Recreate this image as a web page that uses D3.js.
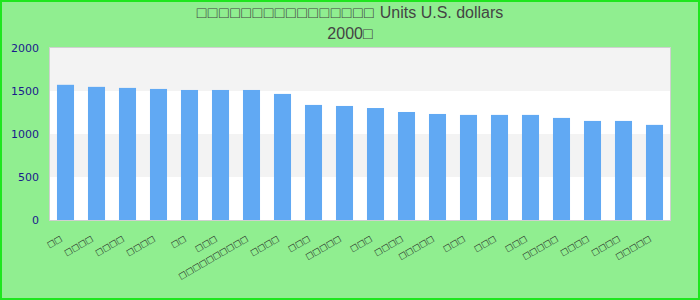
<!DOCTYPE html>
<html>
<head>
<meta charset="utf-8">
<script src="https://cdn.jsdelivr.net/npm/d3@7"></script>
<style>
  body { margin: 0; }
  svg { display: block; }
</style>
</head>
<body>
<div id="chart"></div>
<script>
// labels as they appear in the picture (glyphs not readable, shown as boxes)
const titleBoxes = "□□□□□□□□□□□□□□□□";
const titleUnits = " Units U.S. dollars";
const titleLine2 = "2000□";
const countries = [
  "□□", "□□□□", "□□□□", "□□□□", "□□", "□□□", "□□□□□□□□□□", "□□□□", "□□□", "□□□□□",
  "□□□", "□□□□", "□□□□□", "□□□", "□□□", "□□□", "□□□□□", "□□□□", "□□□□", "□□□□□"
];
const values = [
  1572, 1548, 1536, 1524, 1512, 1512, 1512, 1466, 1338, 1326,
  1302, 1256, 1233, 1222, 1222, 1222, 1187, 1152, 1152, 1106
];
const yTicks = [0, 500, 1000, 1500, 2000];

const width = 700, height = 300;
const margin = { top: 48, right: 30, bottom: 80, left: 50 };

const svg = d3.select("#chart").append("svg")
  .attr("width", width)
  .attr("height", height);

// page background + green frame
svg.append("rect")
  .attr("x", 1).attr("y", 1)
  .attr("width", width - 2).attr("height", height - 2)
  .attr("fill", "#90ee90")
  .attr("stroke", "#1ee61e")
  .attr("stroke-width", 2);

const x = d3.scaleBand()
  .domain(d3.range(countries.length))
  .range([margin.left, width - margin.right])
  .paddingInner(0.45)
  .paddingOuter(0.225);

const y = d3.scaleLinear()
  .domain([0, 2000])
  .range([height - margin.bottom, margin.top]);

// plot area
svg.append("rect")
  .attr("x", margin.left).attr("y", margin.top)
  .attr("width", width - margin.left - margin.right)
  .attr("height", y(0) - margin.top)
  .attr("fill", "#fff");

// alternating bands
svg.selectAll("rect.band")
  .data([[500, 1000], [1500, 2000]])
  .enter().append("rect")
  .attr("class", "band")
  .attr("x", margin.left)
  .attr("y", d => y(d[1]))
  .attr("width", width - margin.left - margin.right)
  .attr("height", d => y(d[0]) - y(d[1]))
  .attr("fill", "#f3f3f3");

// bars
svg.selectAll("rect.bar")
  .data(values)
  .enter().append("rect")
  .attr("class", "bar")
  .attr("x", (d, i) => x(i))
  .attr("y", d => y(d))
  .attr("width", x.bandwidth())
  .attr("height", d => y(0) - y(d))
  .attr("fill", "#61a9f3");

// frame around plot
svg.append("rect")
  .attr("x", margin.left - 0.5).attr("y", margin.top - 0.5)
  .attr("width", width - margin.left - margin.right + 1)
  .attr("height", y(0) - margin.top + 1)
  .attr("fill", "none")
  .attr("stroke", "#d0d0d0")
  .attr("stroke-width", 1);

// y axis
const yAxis = d3.axisLeft(y).tickValues(yTicks).tickFormat(d3.format("d")).tickSize(0).tickPadding(11);
const gy = svg.append("g")
  .attr("transform", `translate(${margin.left},0)`)
  .call(yAxis);
gy.select(".domain").remove();
gy.selectAll("text")
  .attr("fill", "#1a1a8c")
  .style("font-family", "DejaVu Sans")
  .style("font-size", "11px");

// x axis labels
const xAxis = d3.axisBottom(x).tickFormat(i => countries[i]).tickSize(0);
const gx = svg.append("g")
  .attr("transform", `translate(0,${y(0)})`)
  .call(xAxis);
gx.select(".domain").remove();
gx.selectAll("text")
  .attr("fill", "#222")
  .style("font-family", "DejaVu Sans")
  .style("font-size", "8.3px")
  .attr("text-anchor", "end")
  .attr("dy", 0)
  .attr("y", 0)
  .attr("transform", "translate(-3,20) rotate(-30)");

// title
const t1 = svg.append("text")
  .attr("x", width / 2).attr("y", 18)
  .attr("text-anchor", "middle")
  .attr("fill", "#444")
  .style("font-family", "Liberation Sans")
  .style("font-size", "16px");
t1.append("tspan").attr("letter-spacing", "1.5px").text(titleBoxes);
t1.append("tspan").text(titleUnits);
svg.append("text")
  .attr("x", width / 2).attr("y", 39)
  .attr("text-anchor", "middle")
  .attr("fill", "#444")
  .style("font-family", "Liberation Sans")
  .style("font-size", "16px")
  .text(titleLine2);
</script>
</body>
</html>
